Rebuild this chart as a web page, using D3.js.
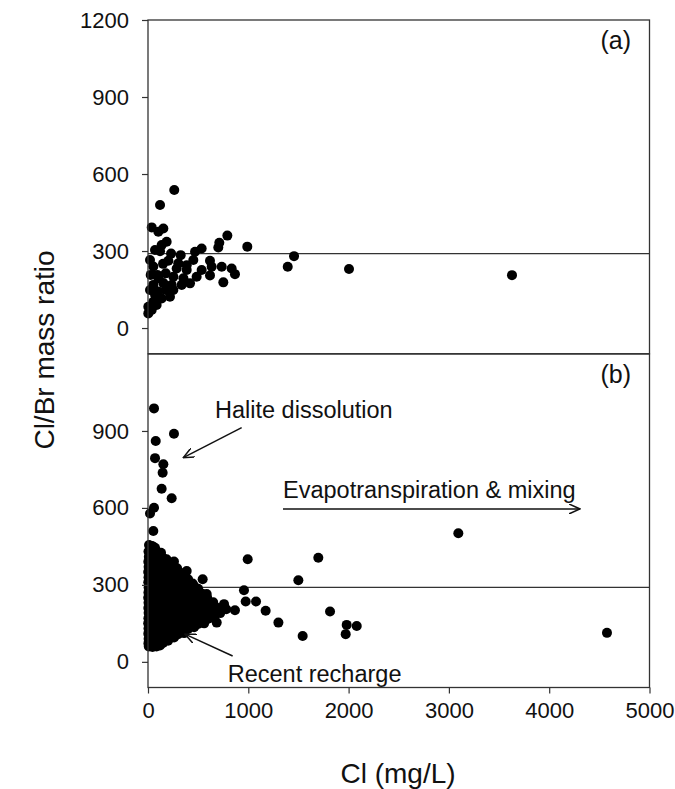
<!DOCTYPE html>
<html>
<head>
<meta charset="utf-8">
<script src="https://cdn.jsdelivr.net/npm/d3@7"></script>
<style>
  body { margin: 0; background: #fff; }
  text { font-family: "Liberation Sans", Arial, sans-serif; fill: #111; }
</style>
</head>
<body>
<div id="chart"></div>
<script>
// panel (a): [Cl mg/L, Cl/Br mass ratio]
var pointsA = [
  [262,538],[120,479],[37,392],[153,388],[103,375],[186,336],[136,323],[70,304],
  [120,299],[791,360],[711,332],[701,314],[990,317],[535,310],[469,297],[326,284],
  [452,265],[618,262],[20,265],[203,262],[53,240],[635,239],[735,239],[834,232],
  [867,210],[535,226],[386,226],[286,232],[177,213],[93,207],[27,207],[751,178],
  [618,205],[485,200],[419,174],[336,168],[353,194],[253,200],[236,168],[153,175],
  [53,168],[20,148],[103,142],[219,122],[136,115],[53,102],[3,83],[37,70],[3,57],
  [86,90],[177,148],[253,148],[103,194],[302,252],[386,245],[1393,239],[1456,280],
  [2004,230],[3629,206],[150,250],[230,290],[70,130]
];

// panel (b): outliers + dense cluster at low Cl
var pointsB = [
  [60,988],[259,889],[77,861],[70,794],[153,770],[146,737],[136,675],[236,638],
  [60,601],[20,578],[53,510],[37,452],
  [3094,501],[994,400],[1698,406],[1499,318],[957,279],[974,235],[1077,235],
  [1173,199],[1300,153],[1542,101],[1815,196],[1981,144],[2081,140],[1971,108],
  [867,201],[758,225],[685,153],[545,322],[585,264],[386,354],[259,391],[459,296],
  [326,316],[4576,113],
  [10,455],[45,450],[70,445],
  [5,430],[50,432],[95,428],[130,425],
  [8,410],[55,412],[100,408],[150,405],[185,400],
  [3,390],[45,392],[90,388],[140,385],[190,380],[225,385],
  [6,370],[50,372],[100,368],[150,365],[200,362],[250,360],[290,365],
  [2,350],[45,352],[95,348],[145,345],[195,342],[245,340],[295,338],[340,345],
  [5,330],[50,332],[100,328],[150,325],[200,322],[250,320],[300,318],[350,325],[400,322],
  [3,310],[48,312],[98,308],[148,305],[198,302],[248,300],[298,298],[348,305],[398,300],[445,305],
  [6,290],[52,292],[102,288],[152,285],[202,282],[252,280],[302,278],[352,285],[402,280],[452,282],[500,285],
  [4,270],[50,272],[100,268],[150,265],[200,262],[250,260],[300,258],[350,265],[400,260],[450,262],[500,258],[540,265],
  [2,250],[48,252],[98,248],[148,245],[198,242],[248,240],[298,238],[348,245],[398,240],[448,242],[498,238],[548,245],[590,250],
  [5,230],[50,232],[100,228],[150,225],[200,222],[250,220],[300,218],[350,225],[400,220],[450,222],[500,218],[550,225],[600,228],[650,232],
  [3,210],[48,212],[98,208],[148,205],[198,202],[248,200],[298,198],[348,205],[398,200],[448,202],[498,198],[548,205],[598,208],[648,205],[700,210],
  [6,190],[52,192],[102,188],[152,185],[202,182],[252,180],[302,178],[352,185],[402,180],[452,182],[502,178],[552,185],[602,188],[652,185],[720,190],[780,205],
  [4,170],[50,172],[100,168],[150,165],[200,162],[250,160],[300,158],[350,165],[400,160],[450,162],[500,158],[550,165],[600,168],[660,170],
  [2,150],[48,152],[98,148],[148,145],[198,142],[248,140],[298,138],[348,145],[398,140],[448,142],[500,148],[560,150],
  [5,130],[50,132],[100,128],[150,125],[200,122],[250,120],[300,118],[350,125],[400,128],[460,135],
  [3,110],[48,112],[98,108],[148,105],[198,102],[250,105],[300,108],[360,112],
  [6,90],[52,92],[102,88],[152,85],[200,90],[260,95],
  [4,72],[50,74],[100,70],[150,74],[200,82],
  [8,60],[45,58],[85,60],[120,64]
];

var xTicks = [0, 1000, 2000, 3000, 4000, 5000];
var yTicksA = [0, 300, 600, 900, 1200];
var yTicksB = [0, 300, 600, 900];
var seawater = 290;   // seawater Cl/Br ratio line

// annotations in panel (b): text [label, cl, ratio], arrows [x1,y1,x2,y2]
var notes = [
  ["Halite dissolution", 668, 952],
  ["Evapotranspiration & mixing", 1346, 639],
  ["Recent recharge", 795, -78]
];
var arrows = [
  [934, 913, 352, 796],
  [1346, 596, 4307, 596],
  [844, 23, 369, 108]
];

var width = 675, height = 789;
var svg = d3.select("#chart").append("svg")
  .attr("width", width).attr("height", height);

svg.append("defs").append("marker")
  .attr("id", "head")
  .attr("markerUnits", "userSpaceOnUse")
  .attr("viewBox", "0 0 12 10")
  .attr("refX", 11).attr("refY", 5)
  .attr("markerWidth", 12).attr("markerHeight", 10)
  .attr("orient", "auto")
  .append("path")
  .attr("d", "M0,0 L11,5 L0,10")
  .attr("fill", "none").attr("stroke", "#111").attr("stroke-width", 1.5);

var x = d3.scaleLinear().domain([0, 5000]).range([148, 649.5]);
var yA = d3.scaleLinear().domain([-100, 1200]).range([353.7, 20]);
var yB = d3.scaleLinear().domain([-100, 1200]).range([687.5, 354]);
var fmt = d3.format("d");

function panel(y, pts, ticks, label) {
  var g = svg.append("g");

  g.append("line")
    .attr("x1", x(0)).attr("x2", x(5000))
    .attr("y1", y(seawater)).attr("y2", y(seawater))
    .attr("stroke", "#333").attr("stroke-width", 1.3);

  g.selectAll("circle").data(pts).enter().append("circle")
    .attr("cx", function(d) { return x(d[0]); })
    .attr("cy", function(d) { return y(d[1]); })
    .attr("r", 5)
    .attr("fill", "#000");

  var ax = g.append("g")
    .attr("transform", "translate(" + x(0) + ",0)")
    .call(d3.axisLeft(y).tickValues(ticks).tickFormat(fmt).tickSize(6).tickPadding(13).tickSizeOuter(0));
  ax.select(".domain").remove();
  ax.selectAll("line").attr("stroke", "#333").attr("stroke-width", 1.2);
  ax.selectAll("text").style("font-size", "22px").style("font-family", "Liberation Sans, Arial, sans-serif");

  g.append("rect")
    .attr("x", x(0)).attr("y", y(1200))
    .attr("width", x(5000) - x(0)).attr("height", y(-100) - y(1200))
    .attr("fill", "none").attr("stroke", "#333").attr("stroke-width", 1.3);

  g.append("text")
    .attr("x", 631).attr("y", y(1200) + 29)
    .attr("text-anchor", "end")
    .style("font-size", "25px")
    .text(label);
  return g;
}

panel(yA, pointsA, yTicksA, "(a)");
var gb = panel(yB, pointsB, yTicksB, "(b)");

var xa = svg.append("g")
  .attr("transform", "translate(0," + yB(-100) + ")")
  .call(d3.axisBottom(x).tickValues(xTicks).tickFormat(fmt).tickSize(6).tickPadding(9).tickSizeOuter(0));
xa.select(".domain").remove();
xa.selectAll("line").attr("stroke", "#333").attr("stroke-width", 1.2);
xa.selectAll("text").style("font-size", "22px").style("font-family", "Liberation Sans, Arial, sans-serif");

gb.selectAll(".note").data(notes).enter().append("text")
  .attr("class", "note")
  .attr("x", function(d) { return x(d[1]); })
  .attr("y", function(d) { return yB(d[2]); })
  .style("font-size", "23.5px")
  .text(function(d) { return d[0]; });

gb.selectAll(".arrow").data(arrows).enter().append("line")
  .attr("class", "arrow")
  .attr("x1", function(d) { return x(d[0]); })
  .attr("y1", function(d) { return yB(d[1]); })
  .attr("x2", function(d) { return x(d[2]); })
  .attr("y2", function(d) { return yB(d[3]); })
  .attr("stroke", "#111").attr("stroke-width", 1.5)
  .attr("marker-end", "url(#head)");

// axis titles
svg.append("text")
  .attr("x", 398).attr("y", 783)
  .attr("text-anchor", "middle")
  .style("font-size", "28px")
  .text("Cl (mg/L)");

svg.append("text")
  .attr("transform", "translate(54,350) rotate(-90)")
  .attr("text-anchor", "middle")
  .style("font-size", "28px")
  .text("Cl/Br mass ratio");
</script>
</body>
</html>
